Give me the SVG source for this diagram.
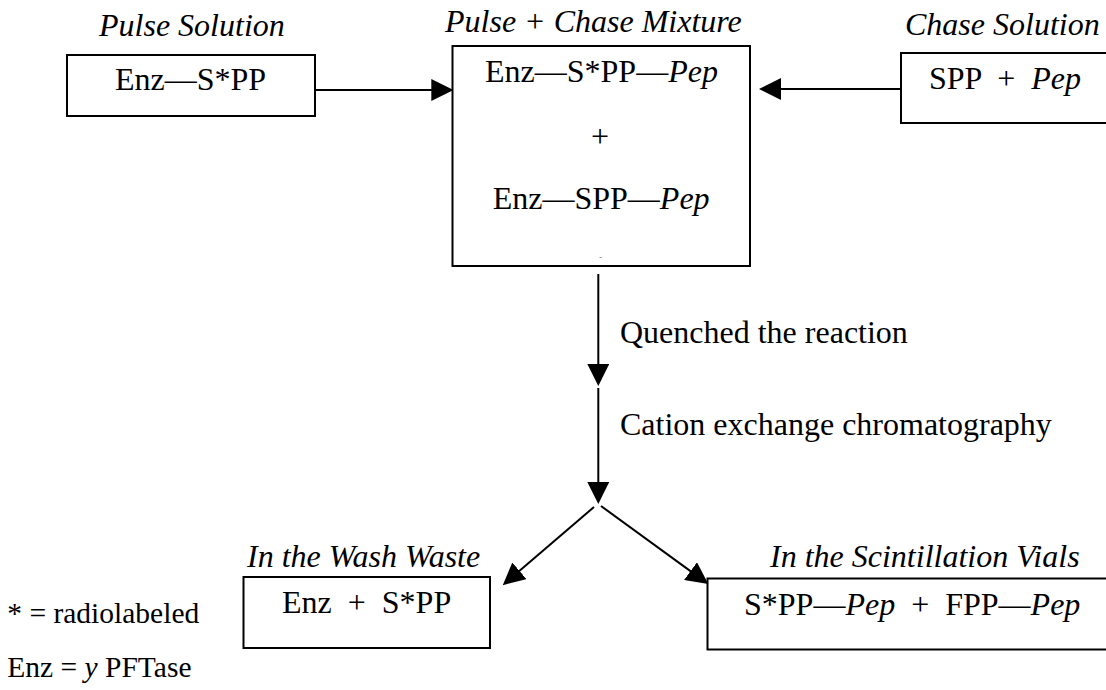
<svg xmlns="http://www.w3.org/2000/svg" width="1106" height="690" viewBox="0 0 1106 690">
<style>
text{font-family:"Liberation Serif","Times New Roman",serif;font-size:32px;fill:#000}
.it{font-style:italic}
.legend{font-size:29.5px}
.box{fill:none;stroke:#000;stroke-width:2}
.conn{stroke:#000;stroke-width:2;fill:none}
</style>
<defs>
<marker id="ah" markerUnits="userSpaceOnUse" markerWidth="22" markerHeight="22" viewBox="0 0 20 20" refX="10" refY="10" orient="auto">
<path d="M0,0 L20,10 L0,20 z" fill="#000"/>
</marker>
</defs>
<rect width="1106" height="690" fill="#fff"/>

<g id="pulse">
<text class="it" x="99" y="36">Pulse Solution</text>
<rect class="box" x="67" y="55" width="248" height="61"/>
<text x="115" y="90">Enz—S*PP</text>
</g>

<g id="mixture">
<text class="it" x="445" y="32">Pulse + Chase Mixture</text>
<rect class="box" x="452.5" y="46" width="297.5" height="220"/>
<text x="485" y="82">Enz—S*PP—<tspan class="it">Pep</tspan></text>
<text x="600" y="146.5" text-anchor="middle">+</text>
<text x="492.7" y="209">Enz—SPP—<tspan class="it">Pep</tspan></text>
<line x1="599.5" y1="257.5" x2="601.8" y2="257.5" stroke="#999" stroke-width="1"/>
</g>

<g id="chase">
<text class="it" x="905" y="35">Chase Solution</text>
<rect class="box" x="901" y="53" width="220" height="70"/>
<text x="929" y="88.5" xml:space="preserve">SPP  +  <tspan class="it">Pep</tspan></text>
</g>

<g id="wash">
<text class="it" x="247" y="567">In the Wash Waste</text>
<rect class="box" x="243.5" y="577" width="246.5" height="71"/>
<text x="282" y="612.7" xml:space="preserve">Enz  +  S*PP</text>
</g>

<g id="vials">
<text class="it" x="770" y="567">In the Scintillation Vials</text>
<rect class="box" x="707.5" y="578.5" width="410" height="71"/>
<text x="744" y="615" xml:space="preserve">S*PP—<tspan class="it">Pep</tspan>  +  FPP—<tspan class="it">Pep</tspan></text>
</g>

<g id="legend">
<text class="legend" x="7.3" y="623.3">* = radiolabeled</text>
<text class="legend" x="7.3" y="676.7">Enz = <tspan class="it">y</tspan> PFTase</text>
</g>

<g id="steps">
<text x="620" y="343.3">Quenched the reaction</text>
<text x="620" y="435">Cation exchange chromatography</text>
</g>

<g id="connectors">
<line class="conn" x1="315" y1="90" x2="442.3" y2="90" marker-end="url(#ah)"/>
<line class="conn" x1="901" y1="89" x2="770" y2="89" marker-end="url(#ah)"/>
<line class="conn" x1="598.3" y1="274" x2="598.3" y2="375" marker-end="url(#ah)"/>
<line class="conn" x1="598.3" y1="388" x2="598.3" y2="493" marker-end="url(#ah)"/>
<line class="conn" x1="594" y1="507" x2="511.1" y2="578" marker-end="url(#ah)"/>
<line class="conn" x1="601" y1="506" x2="699.4" y2="577.6" marker-end="url(#ah)"/>
</g>
</svg>
